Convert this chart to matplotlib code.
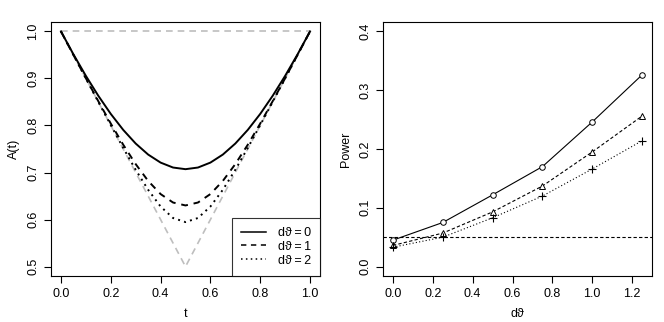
import matplotlib
matplotlib.use('Agg')
import matplotlib.pyplot as plt

plt.rcParams['font.family'] = ['Liberation Sans', 'DejaVu Sans']
plt.rcParams['font.size'] = 9

# left panel: Pickands dependence functions
t = [0.0, 0.05, 0.1, 0.15, 0.2, 0.25, 0.3, 0.35, 0.4, 0.45, 0.5,
     0.55, 0.6, 0.65, 0.7, 0.75, 0.8, 0.85, 0.9, 0.95, 1.0]
A0 = [1.0, 0.9513, 0.9055, 0.8631, 0.8246, 0.7906, 0.7616, 0.7382, 0.7211, 0.7106, 0.7071,
      0.7106, 0.7211, 0.7382, 0.7616, 0.7906, 0.8246, 0.8631, 0.9055, 0.9513, 1.0]
A1 = [1.0, 0.9501, 0.9004, 0.8516, 0.8041, 0.7591, 0.7179, 0.6822, 0.6542, 0.6362, 0.6300,
      0.6362, 0.6542, 0.6822, 0.7179, 0.7591, 0.8041, 0.8516, 0.9004, 0.9501, 1.0]
A2 = [1.0, 0.9500, 0.9000, 0.8502, 0.8008, 0.7523, 0.7058, 0.6633, 0.6277, 0.6033, 0.5946,
      0.6033, 0.6277, 0.6633, 0.7058, 0.7523, 0.8008, 0.8502, 0.9000, 0.9500, 1.0]
upper_t = [0.0, 1.0]
upper_A = [1.0, 1.0]
lower_t = [0.0, 0.5, 1.0]
lower_A = [1.0, 0.5, 1.0]
legend_labels = ['dϑ\u2009=\u20090', 'dϑ\u2009=\u20091', 'dϑ\u2009=\u20092']

# right panel: power
dtheta = [0.0, 0.25, 0.5, 0.75, 1.0, 1.25]
power0 = [0.045, 0.075, 0.122, 0.170, 0.246, 0.326]
power1 = [0.036, 0.057, 0.093, 0.137, 0.195, 0.256]
power2 = [0.033, 0.050, 0.083, 0.120, 0.166, 0.214]
alpha_level = 0.05

fig = plt.figure(figsize=(6.64, 3.22), dpi=100)
ax1 = fig.add_axes([51 / 664, 46 / 322, 269 / 664, 254 / 322])
ax2 = fig.add_axes([383 / 664, 46 / 322, 269 / 664, 254 / 322])

gray = '#bebebe'
ax1.plot(upper_t, upper_A, color=gray, linestyle=(0, (4, 3)), lw=1.2)
ax1.plot(lower_t, lower_A, color=gray, linestyle=(0, (4, 3)), lw=1.2)
ax1.plot(t, A0, color='black', lw=1.4, linestyle='-', label=legend_labels[0])
ax1.plot(t, A1, color='black', lw=1.4, linestyle=(0, (3.5, 3)), label=legend_labels[1])
ax1.plot(t, A2, color='black', lw=1.4, linestyle=(0, (1, 2.2)), label=legend_labels[2])
ax1.set_xlim(-0.04, 1.04)
ax1.set_ylim(0.48, 1.02)
ax1.set_xticks([0.0, 0.2, 0.4, 0.6, 0.8, 1.0])
ax1.set_yticks([0.5, 0.6, 0.7, 0.8, 0.9, 1.0])
ax1.set_xlabel('t')
ax1.set_ylabel('A(t)')
leg = ax1.legend(loc='lower right', frameon=True, fancybox=False, borderaxespad=0,
                 edgecolor='black', handlelength=2.0, handletextpad=0.9,
                 fontsize=9, borderpad=0.75, labelspacing=0.15)
leg.get_frame().set_linewidth(0.8)
for ln in leg.get_lines():
    ln.set_linewidth(1.1)

ax2.axhline(alpha_level, color='black', linestyle=(0, (3, 2)), lw=0.8)
ax2.plot(dtheta, power0, color='black', lw=0.8, linestyle='-', marker='o',
         mfc='white', ms=4, mew=0.7)
ax2.plot(dtheta, power1, color='black', lw=0.8, linestyle=(0, (3, 2)), marker='^',
         mfc='white', ms=4.8, mew=0.7)
ax2.plot(dtheta, power2, color='black', lw=0.8, linestyle=(0, (1, 2)), marker='+',
         ms=6, mew=0.8)
ax2.set_xlim(-0.05, 1.30)
ax2.set_ylim(-0.016, 0.416)
ax2.set_xticks([0.0, 0.2, 0.4, 0.6, 0.8, 1.0, 1.2])
ax2.set_yticks([0.0, 0.1, 0.2, 0.3, 0.4])
ax2.set_xlabel('dϑ')
ax2.set_ylabel('Power')

for ax in (ax1, ax2):
    ax.tick_params(direction='out', length=5, width=0.8)
    for s in ax.spines.values():
        s.set_linewidth(0.8)
    ax.xaxis.labelpad = 6
    ax.yaxis.labelpad = 5
ax1.set_yticklabels(['0.5', '0.6', '0.7', '0.8', '0.9', '1.0'], rotation=90, va='center')
ax2.set_yticklabels(['0.0', '0.1', '0.2', '0.3', '0.4'], rotation=90, va='center')

plt.savefig('out.png', dpi=100)
